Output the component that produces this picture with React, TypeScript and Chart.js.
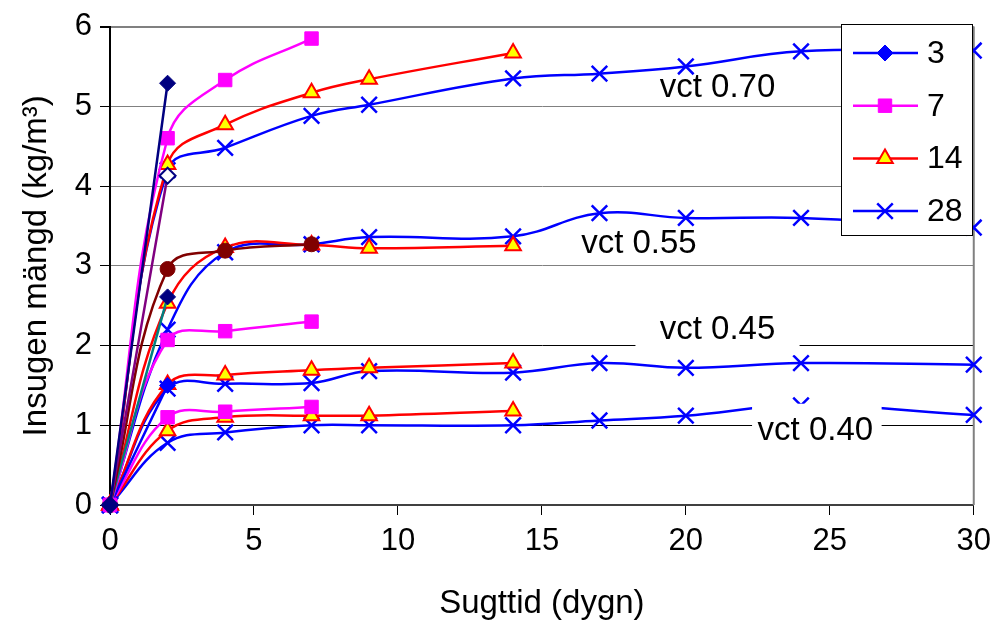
import React, { useEffect, useRef } from 'react';
import { Chart, registerables } from 'chart.js';
import { drawPoint } from 'chart.js/helpers';

Chart.register(...registerables);

// ---------- data ----------
const days = [0, 2, 4, 7, 9, 14, 17, 20, 24, 30];
const legendLabels = ['3', '7', '14', '28'];
const vctLabels = ['vct 0.70', 'vct 0.55', 'vct 0.45', 'vct 0.40'];
const xTitle = 'Sugttid (dygn)';
const yTitle = 'Insugen mängd (kg/m³)';

// vct 0.70
const v70_d3 = [0, 5.29];
const v70_d3b = [0, 4.13];
const v70_d7 = [0, 4.6, 5.33, 5.85];
const v70_d14 = [0, 4.27, 4.77, 5.17, 5.34, 5.67];
const v70_d28 = [0, 4.2, 4.48, 4.88, 5.02, 5.35, 5.41, 5.5, 5.69, 5.7];
// vct 0.55
const v55_d3 = [0, 2.61];
const v55_d3b = [0, 2.96, 3.19, 3.27];
const v55_d7 = [0, 2.07, 2.18, 2.3];
const v55_d14 = [0, 2.53, 3.23, 3.26, 3.22, 3.25];
const v55_d28 = [0, 2.2, 3.17, 3.27, 3.36, 3.37, 3.66, 3.6, 3.6, 3.48];
// vct 0.45
const v45_d3 = [0, 1.5];
const v45_d14 = [0, 1.51, 1.63, 1.69, 1.72, 1.78];
const v45_d28 = [0, 1.46, 1.52, 1.53, 1.68, 1.66, 1.78, 1.72, 1.78, 1.76];
// vct 0.40
const v40_d7 = [0, 1.1, 1.17, 1.23];
const v40_d14 = [0, 0.93, 1.1, 1.12, 1.12, 1.18];
const v40_d28 = [0, 0.78, 0.91, 1.0, 1.0, 1.0, 1.06, 1.12, 1.25, 1.13];

// ---------- styles ----------
const FONT = '"Liberation Sans", Arial, sans-serif';
const BLUE = '#0000FF';
const MAGENTA = '#FF00FF';
const RED = '#FF0000';
const YELLOW = '#FFFF00';
const NAVY = '#000080';
const DARKRED = '#800000';
const PURPLE = '#800080';
const TEAL = '#008080';

type Mk = { style: string; radius: number; fill: string; stroke: string; bw: number };
const mkDiamond = (c: string): Mk => ({ style: 'rectRot', radius: 8, fill: c, stroke: c, bw: 1 });
const mkHollowDiamond: Mk = { style: 'rectRot', radius: 8, fill: '#FFFFFF', stroke: NAVY, bw: 2 };
const mkSquare: Mk = { style: 'rect', radius: 9.5, fill: MAGENTA, stroke: MAGENTA, bw: 1 };
const mkTri: Mk = { style: 'triangle', radius: 9, fill: YELLOW, stroke: RED, bw: 2 };
const mkX: Mk = { style: 'crossRot', radius: 11, fill: BLUE, stroke: BLUE, bw: 2.5 };
const mkCircle: Mk = { style: 'circle', radius: 7.5, fill: DARKRED, stroke: DARKRED, bw: 1 };

const legendStyles = [
  { line: BLUE, mk: mkDiamond(BLUE) },
  { line: MAGENTA, mk: mkSquare },
  { line: RED, mk: mkTri },
  { line: BLUE, mk: mkX },
];

function series(vals: number[], line: string, mk: Mk) {
  return {
    data: vals.map((y, i) => ({ x: days[i], y })),
    borderColor: line,
    borderWidth: 2.5,
    tension: 0.4,
    pointStyle: mk.style,
    pointRadius: mk.radius,
    pointBackgroundColor: mk.fill,
    pointBorderColor: mk.stroke,
    pointBorderWidth: mk.bw,
    clip: false as const,
  };
}

const overlayPlugin = {
  id: 'overlay',
  beforeDatasetsDraw(chart: any) {
    const { ctx, chartArea: a } = chart;
    ctx.save();
    ctx.strokeStyle = '#808080';
    ctx.lineWidth = 2;
    ctx.beginPath();
    ctx.moveTo(a.right, a.top);
    ctx.lineTo(a.right, a.bottom);
    ctx.stroke();
    ctx.restore();
  },
  afterDatasetsDraw(chart: any) {
    const { ctx } = chart;
    const xs = chart.scales.x;
    const ys = chart.scales.y;
    ctx.save();
    // white label boxes
    const boxes = [
      null,
      null,
      { x0: 18.25, x1: 23.95, y0: 2.5, y1: 1.88 },
      { x0: 22.3, x1: 26.8, y0: 1.27, y1: 0.6 },
    ];
    const anchors = [
      { x: 21.1, y: 5.23 },
      { x: 18.37, y: 3.27 },
      { x: 21.1, y: 2.2 },
      { x: 24.5, y: 0.93 },
    ];
    ctx.font = `33px ${FONT}`;
    ctx.textAlign = 'center';
    ctx.textBaseline = 'middle';
    vctLabels.forEach((t, i) => {
      const b = boxes[i];
      if (b) {
        const px0 = xs.getPixelForValue(b.x0);
        const px1 = xs.getPixelForValue(b.x1);
        const py0 = ys.getPixelForValue(b.y0);
        const py1 = ys.getPixelForValue(b.y1);
        ctx.fillStyle = '#FFFFFF';
        ctx.fillRect(px0, py0, px1 - px0, py1 - py0);
      }
      ctx.fillStyle = '#000000';
      ctx.fillText(t, xs.getPixelForValue(anchors[i].x), ys.getPixelForValue(anchors[i].y));
    });

    // legend
    const lx = 841.5, ly = 24.5, lw = 131, lh = 211;
    ctx.fillStyle = '#FFFFFF';
    ctx.fillRect(lx, ly, lw, lh);
    ctx.strokeStyle = '#000000';
    ctx.lineWidth = 1;
    ctx.strokeRect(lx, ly, lw, lh);
    ctx.font = `32px ${FONT}`;
    ctx.textAlign = 'left';
    legendLabels.forEach((lab, i) => {
      const cy = 53 + i * 52.7;
      const st = legendStyles[i];
      ctx.strokeStyle = st.line;
      ctx.lineWidth = 2.5;
      ctx.beginPath();
      ctx.moveTo(853, cy);
      ctx.lineTo(918, cy);
      ctx.stroke();
      ctx.fillStyle = st.mk.fill;
      ctx.strokeStyle = st.mk.stroke;
      ctx.lineWidth = st.mk.bw;
      drawPoint(ctx, { pointStyle: st.mk.style as any, radius: st.mk.radius, rotation: 0, borderWidth: st.mk.bw }, 885, cy);
      ctx.fillStyle = '#000000';
      ctx.fillText(lab, 927, cy + 1);
    });
    ctx.restore();
  },
};

export default function App() {
  const ref = useRef<HTMLCanvasElement>(null);
  useEffect(() => {
    if (!ref.current) return;
    const datasets = [
      series(v70_d3, NAVY, mkDiamond(NAVY)),
      series(v70_d3b, PURPLE, mkHollowDiamond),
      series(v70_d7, MAGENTA, mkSquare),
      series(v70_d14, RED, mkTri),
      series(v70_d28, BLUE, mkX),
      series(v55_d3b, DARKRED, mkCircle),
      series(v55_d3, TEAL, mkDiamond(NAVY)),
      series(v55_d7, MAGENTA, mkSquare),
      series(v55_d14, RED, mkTri),
      series(v55_d28, BLUE, mkX),
      series(v45_d3, BLUE, mkDiamond(BLUE)),
      series(v45_d14, RED, mkTri),
      series(v45_d28, BLUE, mkX),
      series(v40_d7, MAGENTA, mkSquare),
      series(v40_d14, RED, mkTri),
      series(v40_d28, BLUE, mkX),
    ];
    const chart = new Chart(ref.current, {
      type: 'line',
      data: { datasets: datasets as any },
      options: {
        responsive: false,
        animation: false,
        devicePixelRatio: 1,
        events: [],
        layout: { padding: { top: 23, right: 22, left: 0, bottom: 0 } },
        plugins: { legend: { display: false }, tooltip: { enabled: false } },
        scales: {
          x: {
            type: 'linear',
            min: 0,
            max: 30,
            afterFit: (s: any) => { s.height = 120; },
            ticks: { stepSize: 5, color: '#000', font: { family: FONT, size: 31 }, padding: 8, maxRotation: 0 },
            grid: { drawOnChartArea: false, drawTicks: true, tickLength: 10, color: '#000', tickColor: '#000' },
            border: { color: '#404040', width: 2 },
            title: { display: true, text: xTitle, color: '#000', font: { family: FONT, size: 33 }, padding: { top: 0, bottom: 1 } },
          },
          y: {
            type: 'linear',
            min: 0,
            max: 6,
            afterFit: (s: any) => { s.width = 110; },
            ticks: { stepSize: 1, color: '#000', font: { family: FONT, size: 31 }, padding: 8 },
            grid: {
              drawTicks: true,
              tickLength: 10,
              tickColor: '#000',
              color: (c: any) => (c.tick && c.tick.value <= 2 ? '#000000' : '#808080'),
              lineWidth: (c: any) => (c.tick && c.tick.value === 6 ? 2 : 1),
            },
            border: { color: '#000', width: 2 },
            title: { display: true, text: yTitle, color: '#000', font: { family: FONT, size: 33 }, padding: { top: 17, bottom: 0 } },
          },
        },
      },
      plugins: [overlayPlugin],
    });
    return () => chart.destroy();
  }, []);
  return (
    <div style={{ position: 'fixed', left: 0, top: 0, width: 999, height: 625, background: '#fff' }}>
      <canvas ref={ref} width={999} height={625} style={{ width: 999, height: 625 }} />
    </div>
  );
}
